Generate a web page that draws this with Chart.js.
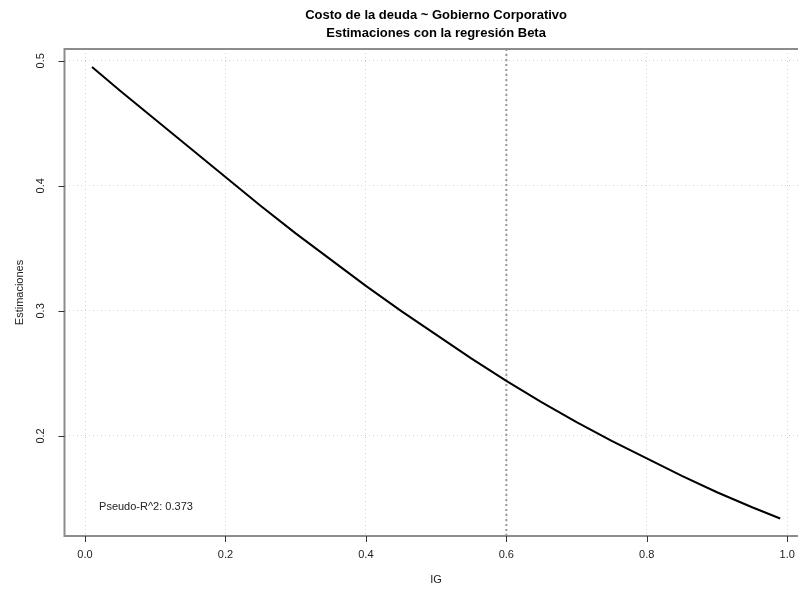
<!DOCTYPE html>
<html>
<head>
<meta charset="utf-8">
<script src="https://cdn.jsdelivr.net/npm/chart.js@4.4.1/dist/chart.umd.min.js"></script>
<style>
  html, body { margin: 0; padding: 0; background: #fff; overflow: hidden; }
  #wrap { width: 798px; height: 591px; overflow: hidden; position: relative; }
  canvas { display: block; }
</style>
</head>
<body>
<div id="wrap"><canvas id="chart" width="830" height="591"></canvas></div>
<script>
/* ---- Data ---- */
const igValues = [0.01, 0.05, 0.10, 0.15, 0.20, 0.25, 0.30, 0.35, 0.40, 0.45, 0.50,
  0.55, 0.60, 0.65, 0.70, 0.75, 0.80, 0.85, 0.90, 0.95, 0.99];
const estimaciones = [0.495, 0.476, 0.453, 0.430, 0.407, 0.384, 0.362, 0.341, 0.320, 0.300, 0.281,
  0.262, 0.244, 0.227, 0.211, 0.196, 0.182, 0.168, 0.155, 0.143, 0.134];
const xTicks = [0.0, 0.2, 0.4, 0.6, 0.8, 1.0];
const xTickLabels = ["0.0", "0.2", "0.4", "0.6", "0.8", "1.0"];
const yTicks = [0.2, 0.3, 0.4, 0.5];
const yTickLabels = ["0.2", "0.3", "0.4", "0.5"];
const refLineX = 0.6;
const pseudoR2 = "Pseudo-R^2: 0.373";
const pseudoPos = [0.02, 0.143];

const titleLines = ["Costo de la deuda ~ Gobierno Corporativo", "Estimaciones con la regresión Beta"];
const xTitle = "IG";
const yTitle = "Estimaciones";

// R-style 4% axis extension
const X_MIN = -0.0292, X_MAX = 1.0292;
const Y_MIN = 0.1200, Y_MAX = 0.5094;

const FONT = "'Liberation Sans', Arial, sans-serif";
const TEXT = "#222";

/* ---- Plugin: box, ticks, labels, titles ---- */
const rDecor = {
  id: "rDecor",
  afterDraw(chart) {
    const { ctx, chartArea: a, scales: { x, y } } = chart;
    ctx.save();

    // plot box
    ctx.strokeStyle = "#8c8c8c";
    ctx.lineWidth = 2;
    ctx.strokeRect(a.left, a.top, a.right - a.left, a.bottom - a.top);

    // tick marks
    ctx.strokeStyle = "#333";
    ctx.lineWidth = 1;
    ctx.beginPath();
    xTicks.forEach((v) => {
      const px = Math.round(x.getPixelForValue(v)) + 0.5;
      ctx.moveTo(px, a.bottom);
      ctx.lineTo(px, a.bottom + 6);
    });
    yTicks.forEach((v) => {
      const py = Math.round(y.getPixelForValue(v)) + 0.5;
      ctx.moveTo(a.left, py);
      ctx.lineTo(a.left - 6, py);
    });
    ctx.stroke();

    // tick labels
    ctx.fillStyle = TEXT;
    ctx.font = `11px ${FONT}`;
    ctx.textAlign = "center";
    ctx.textBaseline = "middle";
    xTicks.forEach((v, i) => {
      ctx.fillText(xTickLabels[i], x.getPixelForValue(v), a.bottom + 19);
    });
    yTicks.forEach((v, i) => {
      ctx.save();
      ctx.translate(a.left - 24, y.getPixelForValue(v));
      ctx.rotate(-Math.PI / 2);
      ctx.fillText(yTickLabels[i], 0, 0);
      ctx.restore();
    });

    // axis titles
    const cx = (a.left + a.right) / 2;
    const cy = (a.top + a.bottom) / 2;
    ctx.fillText(xTitle, cx, a.bottom + 44);
    ctx.save();
    ctx.translate(20, cy);
    ctx.rotate(-Math.PI / 2);
    ctx.fillText(yTitle, 0, 0);
    ctx.restore();

    // main title
    ctx.fillStyle = "#000";
    ctx.font = `bold 13px ${FONT}`;
    ctx.fillText(titleLines[0], cx, 15);
    ctx.fillText(titleLines[1], cx, 33);

    // annotation
    ctx.fillStyle = TEXT;
    ctx.font = `11px ${FONT}`;
    ctx.textAlign = "left";
    ctx.fillText(pseudoR2, x.getPixelForValue(pseudoPos[0]), y.getPixelForValue(pseudoPos[1]));

    ctx.restore();
  },
};

const curve = igValues.map((v, i) => ({ x: v, y: estimaciones[i] }));

new Chart(document.getElementById("chart"), {
  type: "scatter",
  data: {
    datasets: [
      {
        data: [{ x: refLineX, y: Y_MIN }, { x: refLineX, y: Y_MAX }],
        showLine: true,
        borderColor: "#9a9a9a",
        borderWidth: 2,
        borderDash: [2, 3],
        pointRadius: 0,
        order: 2,
      },
      {
        data: curve,
        showLine: true,
        borderColor: "#000",
        borderWidth: 2,
        pointRadius: 0,
        tension: 0,
        order: 1,
      },
    ],
  },
  options: {
    responsive: false,
    animation: false,
    devicePixelRatio: 1,
    layout: { padding: { left: 64.5, top: 49, right: 22.3, bottom: 55 } },
    plugins: {
      legend: { display: false },
      tooltip: { enabled: false },
      title: { display: false },
    },
    scales: {
      x: {
        type: "linear",
        min: X_MIN,
        max: X_MAX,
        afterBuildTicks: (s) => { s.ticks = xTicks.map((v) => ({ value: v })); },
        ticks: { display: false },
        grid: { color: "#d3d3d3", lineWidth: 1, drawTicks: false, tickBorderDash: [1, 3] },
        border: { display: false, dash: [1, 3] },
      },
      y: {
        type: "linear",
        min: Y_MIN,
        max: Y_MAX,
        afterBuildTicks: (s) => { s.ticks = yTicks.map((v) => ({ value: v })); },
        ticks: { display: false },
        grid: { color: "#d3d3d3", lineWidth: 1, drawTicks: false },
        border: { display: false, dash: [1, 3] },
      },
    },
  },
  plugins: [rDecor],
});
</script>
</body>
</html>
